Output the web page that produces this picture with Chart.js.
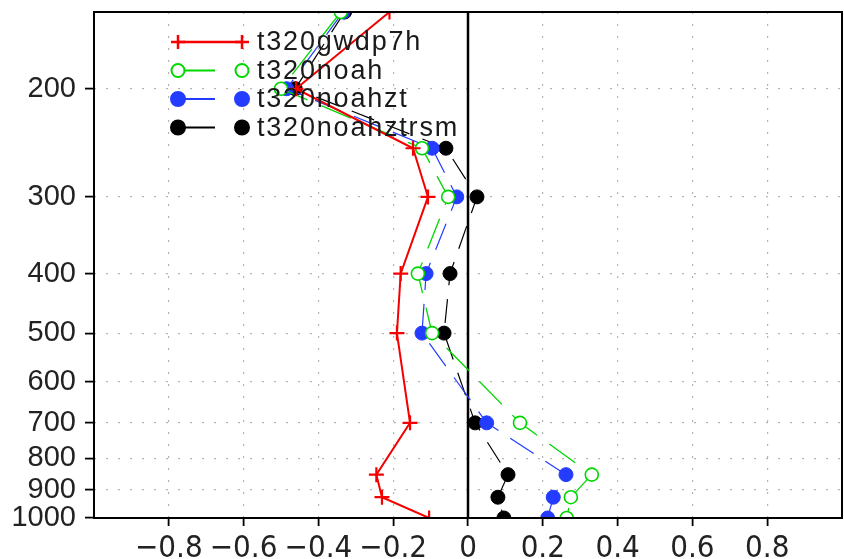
<!DOCTYPE html>
<html>
<head>
<meta charset="utf-8">
<script src="https://cdn.jsdelivr.net/npm/chart.js@4"></script>
<style>
  html, body { margin: 0; padding: 0; background: #fff; overflow: hidden; }
  #wrap { position: relative; width: 844px; height: 559px; }
  canvas { display: block; }
</style>
</head>
<body>
<div id="wrap"><canvas id="c"></canvas></div>
<script>
// pressure levels (hPa)
const levels = [150, 200, 250, 300, 400, 500, 700, 850, 925, 1000];
const yTicks = [200, 300, 400, 500, 600, 700, 800, 900, 1000];
const xTicks = [-0.8, -0.6, -0.4, -0.2, 0, 0.2, 0.4, 0.6, 0.8];

const seriesNames = ["t320gwdp7h", "t320noah", "t320noahzt", "t320noahztrsm"];
const gwdp7h = [-0.21, -0.46, -0.147, -0.107, -0.18, -0.19, -0.155, -0.245, -0.23, -0.104];
const noah = [-0.34, -0.50, -0.123, -0.053, -0.134, -0.096, 0.139, 0.331, 0.275, 0.264];
const noahzt = [-0.334, -0.485, -0.096, -0.03, -0.112, -0.123, 0.05, 0.262, 0.228, 0.213];
const noahztrsm = [-0.33, -0.462, -0.059, 0.024, -0.048, -0.064, 0.019, 0.107, 0.080, 0.096];

function pts(vals) {
  return vals.map((v, i) => ({ x: v, y: levels[i] }));
}

const RED = "rgb(245,0,0)";
const GREEN = "rgb(0,215,0)";
const BLUE = "rgb(35,60,255)";
const BLACK = "#000";

const styles = [
  { color: RED, dash: [], point: "cross", fill: RED, radius: 7.5, lw: 2, pw: 2.2 },
  { color: GREEN, dash: [32, 15], point: "circle", fill: "#fff", radius: 6.5, lw: 1.3, pw: 1.6 },
  { color: BLUE, dash: [28, 14], point: "circle", fill: BLUE, radius: 7, lw: 1.2, pw: 1 },
  { color: BLACK, dash: [24, 14], point: "circle", fill: BLACK, radius: 7, lw: 1.2, pw: 1 }
];
const allVals = [gwdp7h, noah, noahzt, noahztrsm];

const datasets = allVals.map((vals, k) => ({
  label: seriesNames[k],
  data: pts(vals),
  showLine: true,
  borderColor: styles[k].color,
  borderWidth: styles[k].lw,
  borderDash: styles[k].dash,
  pointStyle: styles[k].point,
  pointRadius: styles[k].radius,
  pointBackgroundColor: styles[k].fill,
  pointBorderColor: styles[k].color,
  pointBorderWidth: styles[k].pw,
  order: k
}));

// frame + zero line
const framePlugin = {
  id: "frame",
  beforeDatasetsDraw(chart) {
    const { ctx, chartArea: a, scales } = chart;
    const x0 = scales.x.getPixelForValue(0);
    ctx.save();
    ctx.strokeStyle = "#000";
    ctx.lineWidth = 2.5;
    ctx.beginPath();
    ctx.moveTo(x0, a.top);
    ctx.lineTo(x0, a.bottom);
    ctx.stroke();
    ctx.restore();
  },
  afterDraw(chart) {
    const { ctx, chartArea: a } = chart;
    ctx.save();
    ctx.strokeStyle = "#000";
    ctx.lineWidth = 2;
    ctx.strokeRect(a.left, a.top, a.right - a.left, a.bottom - a.top);
    ctx.restore();
  }
};

// legend drawn inside the plot, upper left
const legendPlugin = {
  id: "insideLegend",
  afterDatasetsDraw(chart) {
    const { ctx } = chart;
    const x1 = 178, x2 = 242, tx = 257;
    const y0 = 42, dy = 28.5;
    ctx.save();
    seriesNames.forEach((name, k) => {
      const s = styles[k];
      const y = y0 + k * dy;
      ctx.strokeStyle = s.color;
      ctx.lineWidth = k === 0 ? 2.5 : 2;
      ctx.setLineDash(k === 0 ? [] : [37, 27]);
      ctx.beginPath();
      ctx.moveTo(x1, y);
      ctx.lineTo(x2, y);
      ctx.stroke();
      ctx.setLineDash([]);
      [x1, x2].forEach(px => {
        if (s.point === "cross") {
          ctx.lineWidth = 2.5;
          ctx.beginPath();
          ctx.moveTo(px, y - 7); ctx.lineTo(px, y + 7);
          ctx.moveTo(px - 7, y); ctx.lineTo(px + 7, y);
          ctx.stroke();
        } else {
          ctx.beginPath();
          ctx.arc(px, y, s.radius, 0, Math.PI * 2);
          ctx.fillStyle = s.fill;
          ctx.fill();
          ctx.lineWidth = 2;
          ctx.stroke();
        }
      });
      ctx.fillStyle = "#1a1a1a";
      ctx.font = "27px 'Liberation Sans', Arial, sans-serif";
      ctx.letterSpacing = "1.8px";
      ctx.textBaseline = "middle";
      ctx.textAlign = "left";
      ctx.fillText(name, tx, y + 1);
    });
    ctx.restore();
  }
};

function fmtX(v) {
  const r = Math.round(v * 10) / 10;
  if (r === 0) return "0";
  return (r < 0 ? "\u2212" : "") + Math.abs(r).toFixed(1);
}

new Chart(document.getElementById("c"), {
  type: "scatter",
  data: { datasets },
  options: {
    responsive: true,
    maintainAspectRatio: false,
    animation: false,
    layout: { autoPadding: false, padding: { top: 12, right: 2, left: 0, bottom: 0 } },
    plugins: { legend: { display: false }, tooltip: { enabled: false } },
    scales: {
      x: {
        type: "linear",
        min: -1,
        max: 1,
        afterBuildTicks(scale) {
          scale.ticks = xTicks.map(v => ({ value: v }));
        },
        afterFit(scale) {
          scale.height = 41;
          scale.paddingLeft = 0;
          scale.paddingRight = 0;
        },
        ticks: {
          autoSkip: false,
          maxRotation: 0,
          padding: 4,
          color: "#222",
          font: { family: "'Liberation Sans Narrow', 'DejaVu Sans Condensed', sans-serif", size: 31 },
          callback: (v) => fmtX(v)
        },
        grid: {
          color: "#b4b4b4",
          lineWidth: 1.2,
          tickLength: 8,
          tickColor: "#000",
          tickWidth: 1.8
        },
        border: { display: false, dash: [2, 10] }
      },
      y: {
        type: "logarithmic",
        min: 150,
        max: 1000,
        reverse: true,
        afterBuildTicks(scale) {
          scale.ticks = yTicks.map(v => ({ value: v }));
        },
        afterFit(scale) {
          scale.width = 94;
          scale.paddingTop = 0;
          scale.paddingBottom = 0;
        },
        ticks: {
          autoSkip: false,
          padding: 9,
          color: "#222",
          font: { family: "'Liberation Sans', Arial, sans-serif", size: 29 },
          callback: (v) => String(v)
        },
        grid: {
          color: (ctx) => (ctx.tick && ctx.tick.value === 1000 ? "rgba(0,0,0,0)" : "#b4b4b4"),
          lineWidth: 1.2,
          tickLength: 9,
          tickColor: "#000",
          tickWidth: 1.8
        },
        border: { display: false, dash: [2, 10] }
      }
    }
  },
  plugins: [framePlugin, legendPlugin]
});
</script>
</body>
</html>
